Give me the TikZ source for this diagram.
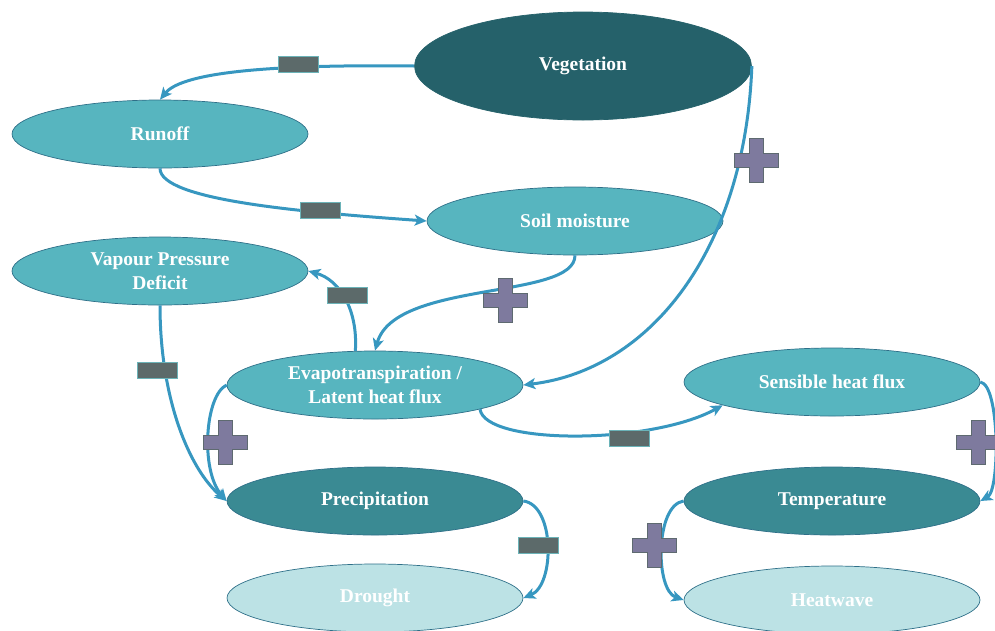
\documentclass[tikz,border=0pt]{standalone}
\usepackage{fontspec}
\setmainfont{Liberation Serif}
\usetikzlibrary{shapes.geometric,arrows.meta}
\definecolor{vegc}{HTML}{25616A}
\definecolor{midc}{HTML}{3A8A93}
\definecolor{tealc}{HTML}{57B5BF}
\definecolor{palec}{HTML}{BCE2E5}
\definecolor{edgec}{HTML}{2E6F88}
\definecolor{arrc}{HTML}{3797C0}
\definecolor{minusc}{HTML}{5C6A6A}
\definecolor{minusedge}{HTML}{6BB3B8}
\definecolor{plusc}{HTML}{7E7A9E}
\definecolor{plusedge}{HTML}{5E6A70}
\begin{document}
\begin{tikzpicture}[x=1pt,y=-1pt,
  ell/.style={ellipse, draw=edgec, line width=0.7pt, minimum width=296pt, minimum height=68pt,
    inner sep=0pt, text=white, font=\bfseries\fontsize{19.5}{24}\selectfont, align=center},
  conn/.style={draw=arrc, line width=3pt, -{Stealth[length=12pt,width=11pt,inset=3pt]}},
  minussign/.style={rectangle, fill=minusc, draw=minusedge, line width=0.8pt,
    minimum width=40pt, minimum height=16pt, inner sep=0pt},
  plussign/.pic={\draw[fill=plusc, draw=plusedge, line width=0.8pt]
    (-22,-7)--(-7,-7)--(-7,-22)--(7,-22)--(7,-7)--(22,-7)--(22,7)--(7,7)--(7,22)--(-7,22)--(-7,7)--(-22,7)--cycle;}
]
\useasboundingbox (0,0) rectangle (995,630);

% nodes
\node[ell, fill=vegc, draw=vegc, minimum width=337pt, minimum height=108pt] (veg) at (583,66) {Vegetation};
\node[ell, fill=tealc] (runoff) at (160,134) {Runoff};
\node[ell, fill=tealc] (soil) at (575,221) {Soil moisture};
\node[ell, fill=tealc] (vpd) at (160,271) {Vapour Pressure\\Deficit};
\node[ell, fill=tealc] (evap) at (375,385) {Evapotranspiration /\\Latent heat flux};
\node[ell, fill=tealc] (sens) at (832,382) {Sensible heat flux};
\node[ell, fill=midc] (precip) at (375,501) {Precipitation};
\node[ell, fill=midc] (temp) at (832,501) {Temperature};
\node[ell, fill=palec] (drought) at (375,598) {Drought};
\node[ell, fill=palec] (heat) at (832,600) {Heatwave};

% connectors
\draw[conn] (veg.west) .. controls (250,64) and (180,75) .. (runoff.north);
\draw[conn] (runoff.south) .. controls (160,200) and (300,212) .. (soil.west);
\draw[conn] (soil.south) .. controls (575,300) and (395,280) .. (evap.north);
\draw[conn] (veg.east) .. controls (745,250) and (650,370) .. (evap.east);
\draw[conn] (evap.120) .. controls (358,310) and (340,280) .. (vpd.east);
\draw[conn] (vpd.south) .. controls (160,400) and (190,470) .. (precip.west);
\draw[conn] (evap.west) .. controls (205,395) and (200,470) .. (precip.west);
\draw[conn] (evap.-13) .. controls (485,445) and (650,445) .. (sens.192);
\draw[conn] (sens.east) .. controls (1000,385) and (1000,490) .. (temp.east);
\draw[conn] (precip.east) .. controls (555,505) and (555,585) .. (drought.east);
\draw[conn] (temp.west) .. controls (655,505) and (655,590) .. (heat.west);

% signs
\node[minussign] (m1) at (298,64) {};
\node[minussign] (m2) at (320,210) {};
\node[minussign] (m3) at (347,295) {};
\node[minussign] (m4) at (157,370) {};
\node[minussign] (m5) at (629,438) {};
\node[minussign] (m6) at (538,545) {};
\pic (p1) at (756,160) {plussign};
\pic (p2) at (505,300) {plussign};
\pic (p3) at (225,442) {plussign};
\pic (p4) at (978,442) {plussign};
\pic (p5) at (654,545) {plussign};
\end{tikzpicture}
\end{document}
